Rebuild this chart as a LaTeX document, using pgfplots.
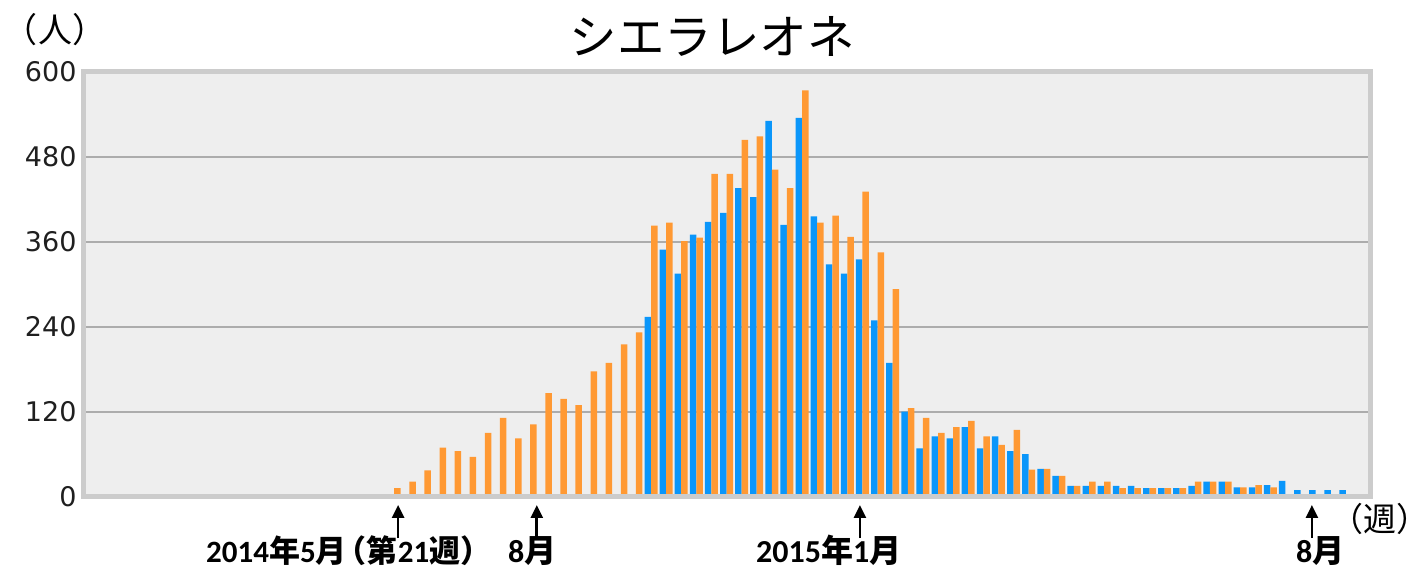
\documentclass[border=0pt]{standalone}
\usepackage{fontspec}
\setmainfont{Carlito}
\newfontfamily\cjk{Noto Sans CJK JP}
\newfontfamily\dv{DejaVu Sans}
\usepackage{pgfplots}
\usepackage{pgfplotstable}
\pgfplotsset{compat=1.18}
\usetikzlibrary{arrows.meta}
\definecolor{cblue}{RGB}{10,150,250}
\definecolor{corange}{RGB}{255,153,51}
\definecolor{bgc}{RGB}{238,238,238}
\definecolor{gridc}{RGB}{172,172,172}
\definecolor{framec}{RGB}{204,204,204}

\pgfplotstableread{
i v
17 254
18 349
19 315
20 370
21 388
22 401
23 436
24 423
25 531
26 384
27 535
28 396
29 328
30 315
31 335
32 249
33 189
34 120
35 68
36 85
37 82
38 98
39 68
40 85
41 64
42 60
43 39
44 29
45 15
46 15
47 15
48 15
49 15
50 12
51 12
52 12
53 15
54 21
55 21
56 13
57 13
58 16
59 22
60 9
61 9
62 9
63 9
}\blueData

\pgfplotstableread{
i v
0 12
1 21
2 37
3 69
4 64
5 56
6 90
7 111
8 82
9 102
10 146
11 138
12 129
13 177
14 189
15 215
16 232
17 383
18 387
19 361
20 366
21 456
22 456
23 504
24 509
25 462
26 436
27 574
28 387
29 397
30 367
31 431
32 345
33 293
34 125
35 111
36 90
37 98
38 107
39 85
40 73
41 94
42 38
43 39
44 29
45 15
46 21
47 21
48 12
49 12
50 12
51 12
52 12
53 21
54 21
55 21
56 13
57 16
58 13
}\orangeData

\begin{document}
\begin{tikzpicture}
\path[use as bounding box] (0,0) rectangle (1423pt,569pt);
\begin{axis}[
  at={(83pt,72.5pt)}, anchor=south west,
  scale only axis, width=1287pt, height=424.5pt,
  xmin=-20.6, xmax=64.6, ymin=0, ymax=600,
  ybar=0pt, bar width=6.5pt,
  ytick={0,120,240,360,480,600},
  xtick=\empty,
  ymajorgrids, major grid style={draw=gridc, line width=2pt},
  major tick length=0pt,
  axis line style={draw=none},
  axis background/.style={fill=bgc},
  /pgf/number format/assume math mode=true,
  yticklabel style={font=\dv\fontsize{27}{30}\selectfont, text=black!88},
  yticklabel shift=3pt,
  clip=false,
]
\addplot[fill=cblue, draw=none] table[x=i, y=v] {\blueData};
\addplot[fill=corange, draw=none] table[x=i, y=v] {\orangeData};
\draw[framec, line width=5pt] (rel axis cs:0,0) rectangle (rel axis cs:1,1);
\draw[line width=2.6pt, -{Triangle[width=12pt,length=13pt]}] (axis cs:0.26,-59) -- (axis cs:0.26,-12);
\draw[line width=2.6pt, -{Triangle[width=12pt,length=13pt]}] (axis cs:9.44,-59) -- (axis cs:9.44,-12);
\draw[line width=2.6pt, -{Triangle[width=12pt,length=13pt]}] (axis cs:30.83,-59) -- (axis cs:30.83,-12);
\draw[line width=2.6pt, -{Triangle[width=12pt,length=13pt]}] (axis cs:60.75,-59) -- (axis cs:60.75,-12);
\end{axis}
\node[font=\cjk\fontsize{47.5}{50}\selectfont] at (712pt,533pt) {シエラレオネ};
\node[inner sep=0pt, font=\cjk\fontsize{34}{38}\selectfont] at (55pt,539pt) {\kern-0.4em（人）\kern-0.4em};
\node[inner sep=0pt, font=\cjk\fontsize{33}{38}\selectfont] at (1380pt,50pt) {\kern-0.4em（週）\kern-0.4em};
\node[anchor=base west, inner sep=0pt, font=\fontsize{31}{36}\selectfont\bfseries] at (206pt,6pt) {2014{\cjk\bfseries 年}5{\cjk\bfseries 月\kern-0.35em（第}21{\cjk\bfseries 週）}};
\node[anchor=base west, inner sep=0pt, font=\fontsize{32}{36}\selectfont\bfseries] at (508pt,6pt) {8{\cjk\bfseries 月}};
\node[anchor=base west, inner sep=0pt, font=\fontsize{32}{36}\selectfont\bfseries] at (756pt,6pt) {2015{\cjk\bfseries 年}1{\cjk\bfseries 月}};
\node[anchor=base west, inner sep=0pt, font=\fontsize{32}{36}\selectfont\bfseries] at (1296pt,6pt) {8{\cjk\bfseries 月}};
\end{tikzpicture}
\end{document}
